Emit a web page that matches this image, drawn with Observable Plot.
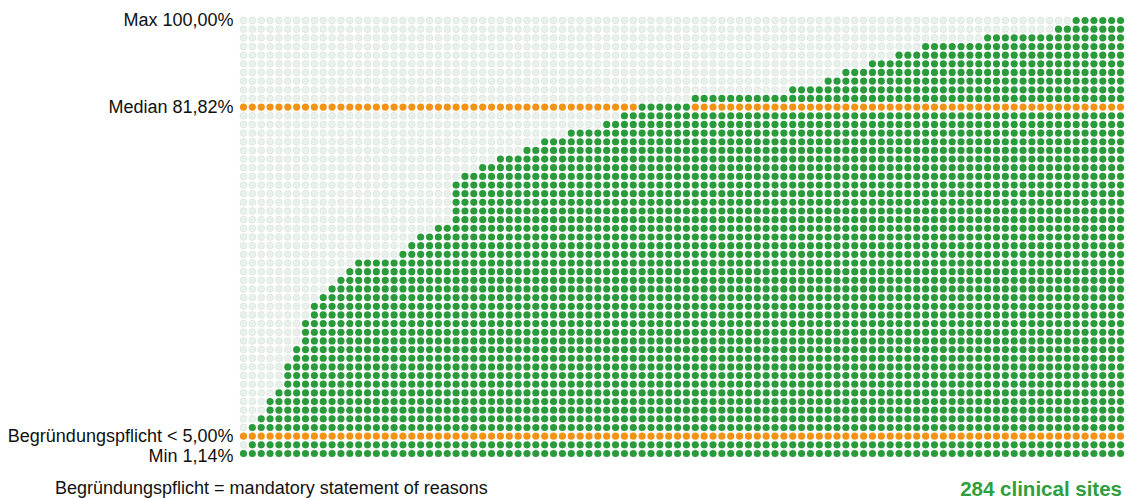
<!DOCTYPE html>
<html>
<head>
<meta charset="utf-8">
<script src="https://cdn.jsdelivr.net/npm/d3@7"></script>
<script src="https://cdn.jsdelivr.net/npm/@observablehq/plot@0.6"></script>
<style>
  html, body { margin: 0; padding: 0; background: #fff; }
  body { width: 1126px; height: 498px; overflow: hidden; font-family: "Liberation Sans", Arial, sans-serif; }
  #chart svg { display: block; }
  #footer { position: relative; height: 28px; }
  #note { position: absolute; left: 55px; top: 9px; font-size: 18px; line-height: 18px; color: #111; white-space: nowrap; }
  #count { position: absolute; right: 4px; top: 9px; font-size: 20.5px; line-height: 20.5px; font-weight: bold; color: #2e9e3e; white-space: nowrap; }
</style>
</head>
<body>
<div id="chart"></div>
<div id="footer"><span id="note">Begründungspflicht = mandatory statement of reasons</span><span id="count">284 clinical sites</span></div>
<script>
// Percentile columns (100) of site values in %
const siteValues = [
  1.14, 7, 9, 13, 15, 21, 25, 31, 35, 37,
  39, 41, 43, 45, 45, 45, 45, 45, 47, 49,
  51, 51, 53, 53, 63, 65, 65, 67, 67, 69,
  69, 69, 71, 71, 73, 73, 73, 75, 75, 75,
  75, 77, 77, 79, 79, 81.82, 81.82, 81.82, 81.82, 81.82,
  81.82, 83, 83, 83, 83, 83, 83, 83, 83, 83,
  83, 83, 85, 85, 85, 85, 87, 87, 89, 89,
  89, 91, 91, 91, 93, 93, 93, 95, 95, 95,
  95, 95, 95, 95, 97, 97, 97, 97, 97, 97,
  97, 97, 99, 99, 100, 100, 100, 100, 100, 100
];
// Row levels of the dot grid (in %)
const rowLevels = d3.range(0, 101, 2);
// Reference lines
const medianValue = 81.82;
const thresholdValue = 5.00;
const labels = [
  {text: "Max 100,00%", value: 100},
  {text: "Median 81,82%", value: 81.82},
  {text: "Begründungspflicht < 5,00%", value: 5.00}
];
const minLabel = [{text: "Min 1,14%", value: 1.14}];

const rowOf = v => Math.floor(v / 2) * 2;
const orangeRows = [rowOf(medianValue), rowOf(thresholdValue)];

const cells = [];
siteValues.forEach((v, i) => {
  for (const level of rowLevels) {
    const top = rowOf(v);
    let kind;
    if (orangeRows.includes(level)) kind = (top === level) ? "green" : "orange";
    else kind = (v >= level) ? "green" : "grey";
    cells.push({col: i, level, kind});
  }
});

const GREEN = "#2a9b3a", ORANGE = "#f39315", GREY = "#eaf1ec";

const chart = Plot.plot({
  width: 1126,
  height: 470,
  marginLeft: 243,
  marginRight: 6,
  marginTop: 20,
  marginBottom: 17,
  x: {domain: [0, siteValues.length - 1], axis: null},
  y: {domain: [0, 100], axis: null},
  style: {fontFamily: "'Liberation Sans', Arial, sans-serif", background: "#fff"},
  marks: [
    Plot.dot(cells.filter(d => d.kind === "grey"), {x: "col", y: "level", r: 3.4, fill: GREY, stroke: "#d9e2db", strokeWidth: 0.7}),
    Plot.dot(cells.filter(d => d.kind === "green"), {x: "col", y: "level", r: 3.6, fill: GREEN}),
    Plot.dot(cells.filter(d => d.kind === "orange"), {x: "col", y: "level", r: 3.6, fill: ORANGE}),
    Plot.text(labels, {x: () => 0, y: d => rowOf(d.value), text: "text", dx: -10, textAnchor: "end", fontSize: 18, fill: "#111"}),
    Plot.text(minLabel, {x: () => 0, y: d => rowOf(d.value), text: "text", dx: -10, dy: 3, textAnchor: "end", fontSize: 18, fill: "#111"})
  ]
});
document.getElementById("chart").appendChild(chart);
</script>
</body>
</html>
